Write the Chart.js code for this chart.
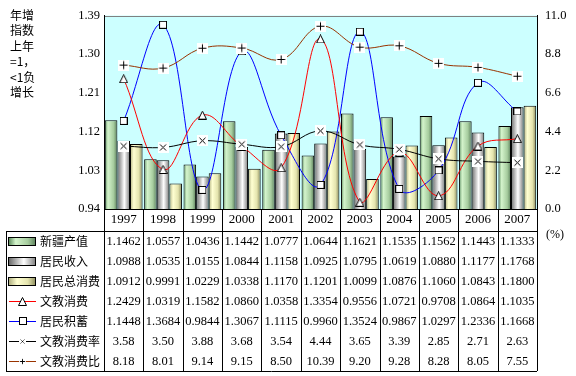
<!DOCTYPE html>
<html>
<head>
<meta charset="utf-8">
<script src="https://cdn.jsdelivr.net/npm/chart.js@4"></script>
<style>body{margin:0;background:#fff}</style>
</head>
<body>
<canvas id="c" width="576" height="376"></canvas>
<script>
// categories
const years = ['1997', '1998', '1999', '2000', '2001', '2002', '2003', '2004', '2005', '2006', '2007'];

// index series (left axis, previous year = 1)
const gdp         = [1.1462, 1.0557, 1.0436, 1.1442, 1.0777, 1.0644, 1.1621, 1.1535, 1.1562, 1.1443, 1.1333];
const income      = [1.0988, 1.0535, 1.0155, 1.0844, 1.1158, 1.0925, 1.0795, 1.0619, 1.0880, 1.1177, 1.1768];
const consumption = [1.0912, 0.9991, 1.0229, 1.0338, 1.1170, 1.1201, 1.0099, 1.0876, 1.1060, 1.0843, 1.1800];
const eduSpend    = [1.2429, 1.0319, 1.1582, 1.0860, 1.0358, 1.3354, 0.9556, 1.0721, 0.9708, 1.0864, 1.1035];
const savings     = [1.1448, 1.3684, 0.9844, 1.3067, 1.1115, 0.9960, 1.3524, 0.9867, 1.0297, 1.2336, 1.1668];

// percentages (right axis)
const eduRate  = [3.58, 3.50, 3.88, 3.68, 3.54, 4.44, 3.65, 3.39, 2.85, 2.71, 2.63];
const eduRatio = [8.18, 8.01, 9.14, 9.15, 8.50, 10.39, 9.20, 9.28, 8.28, 8.05, 7.55];

const leftTicks = [0.94, 1.03, 1.12, 1.21, 1.30, 1.39];
const rightTicks = [0, 2.2, 4.4, 6.6, 8.8, 11.0];
const sideNote = ['年增', '指数', '上年', '=1，', '<1负', '增长'];

const serif = '"Liberation Serif", "Times New Roman", serif';
const cjk = '"Noto Sans CJK SC", sans-serif';

const greenStops = [[0, '#5f8f5f'], [0.25, '#d4f4cc'], [0.7, '#a6cc9e'], [1, '#5a7e5a']];
const grayStops  = [[0, '#6a6a6a'], [0.55, '#ffffff'], [1, '#7a7a7a']];
const beigeStops = [[0, '#b0b080'], [0.3, '#ffffd2'], [0.7, '#e4e4ae'], [1, '#88885a']];

const catPct = 0.96;

function barFill(stops, idx) {
  return function (ctx) {
    const xs = ctx.chart.scales.x;
    if (!xs || ctx.dataIndex === undefined) return stops[1][1];
    const groupW = xs.width / years.length * catPct;
    const bw = groupW / 3;
    const left = xs.getPixelForValue(ctx.dataIndex) - groupW / 2 + idx * bw;
    if (!Number.isFinite(left) || !Number.isFinite(bw) || bw <= 0) return stops[1][1];
    const g = ctx.chart.ctx.createLinearGradient(left, 0, left + bw, 0);
    stops.forEach(s => g.addColorStop(s[0], s[1]));
    return g;
  };
}

function marker(size, draw) {
  const c = document.createElement('canvas');
  c.width = c.height = size;
  const g = c.getContext('2d');
  g.strokeStyle = '#000';
  g.lineWidth = 1;
  draw(g, size);
  return c;
}

const triMark = marker(9, g => {
  g.fillStyle = '#fff';
  g.beginPath();
  g.moveTo(4.5, 0.5); g.lineTo(8.5, 8.5); g.lineTo(0.5, 8.5); g.closePath();
  g.fill(); g.stroke();
});
const sqMark = marker(8, g => {
  g.fillStyle = '#fff';
  g.fillRect(0, 0, 8, 8);
  g.strokeRect(0.5, 0.5, 7, 7);
});
const xMark = marker(11, g => {
  g.fillStyle = '#fff';
  g.fillRect(0, 0, 11, 11);
  g.beginPath();
  g.moveTo(2.5, 2.5); g.lineTo(8.5, 8.5);
  g.moveTo(8.5, 2.5); g.lineTo(2.5, 8.5);
  g.stroke();
});
const plusMark = marker(11, g => {
  g.fillStyle = '#fff';
  g.fillRect(0, 0, 11, 11);
  g.beginPath();
  g.moveTo(5.5, 1.5); g.lineTo(5.5, 9.5);
  g.moveTo(1.5, 5.5); g.lineTo(9.5, 5.5);
  g.stroke();
});

const tableRows = [
  { name: '新疆产值', values: gdp, digits: 4, bar: greenStops },
  { name: '居民收入', values: income, digits: 4, bar: grayStops },
  { name: '居民总消费', values: consumption, digits: 4, bar: beigeStops },
  { name: '文教消费', values: eduSpend, digits: 4, line: '#ff0000', mark: triMark },
  { name: '居民积蓄', values: savings, digits: 4, line: '#0000ff', mark: sqMark },
  { name: '文教消费率', values: eduRate, digits: 2, line: '#000000', mark: xMark },
  { name: '文教消费比', values: eduRatio, digits: 2, line: '#993300', mark: plusMark }
];

const px = v => Math.round(v) + 0.5;

const frame = {
  id: 'frame',
  beforeDraw(chart) {
    const { ctx, chartArea: a } = chart;
    ctx.save();
    ctx.fillStyle = '#fff';
    ctx.fillRect(0, 0, chart.width, chart.height);
    ctx.fillStyle = '#ccffff';
    ctx.fillRect(a.left, a.top, a.right - a.left, a.bottom - a.top);
    ctx.strokeStyle = '#808080';
    ctx.beginPath();
    ctx.moveTo(a.left, px(a.top)); ctx.lineTo(a.right, px(a.top));
    ctx.stroke();
    ctx.restore();
  },
  afterDraw(chart) {
    const { ctx, chartArea: a } = chart;
    const xs = chart.scales.x;
    const catW = xs.width / years.length;
    const yearBottom = a.bottom + 22;
    const rowH = 20;
    const tableBottom = yearBottom + rowH * tableRows.length;
    const tLeft = 6;

    ctx.save();
    ctx.strokeStyle = '#000';
    ctx.lineWidth = 1;
    ctx.beginPath();
    for (let i = 0; i <= years.length; i++) {
      const x = px(a.left + i * catW);
      ctx.moveTo(x, a.bottom); ctx.lineTo(x, tableBottom);
    }
    ctx.moveTo(tLeft, px(yearBottom)); ctx.lineTo(a.right, px(yearBottom));
    ctx.moveTo(tLeft, px(tableBottom)); ctx.lineTo(a.right, px(tableBottom));
    ctx.moveTo(px(tLeft), yearBottom); ctx.lineTo(px(tLeft), tableBottom);
    ctx.stroke();

    tableRows.forEach((row, r) => {
      const cy = yearBottom + rowH * r + rowH / 2;
      // legend key
      if (row.bar) {
        const gh = ctx.createLinearGradient(9, 0, 36, 0);
        row.bar.forEach(s => gh.addColorStop(s[0], s[1]));
        ctx.fillStyle = gh;
        ctx.fillRect(9, cy - 4, 27, 8);
        ctx.strokeRect(8.5, Math.round(cy - 4) + 0.5, 27, 8);
      } else {
        ctx.strokeStyle = row.line;
        ctx.beginPath();
        ctx.moveTo(9, px(cy)); ctx.lineTo(36, px(cy));
        ctx.stroke();
        ctx.strokeStyle = '#000';
        const m = row.mark;
        const s = m === triMark || m === sqMark ? m.width : 7;
        ctx.drawImage(m, Math.round(22.5 - s / 2), Math.round(cy - s / 2), s, s);
      }
      ctx.fillStyle = '#000';
      ctx.font = '12px ' + cjk;
      ctx.textAlign = 'left';
      ctx.textBaseline = 'middle';
      ctx.fillText(row.name, 40, cy);
      ctx.font = '12.5px ' + serif;
      ctx.textAlign = 'center';
      row.values.forEach((v, i) => {
        ctx.fillText(v.toFixed(row.digits), a.left + (i + 0.5) * catW, cy + 1);
      });
    });

    // side note and unit
    ctx.textAlign = 'left';
    ctx.textBaseline = 'middle';
    ctx.font = '12px ' + cjk;
    sideNote.forEach((t, i) => ctx.fillText(t, 10, 15 + i * 15.5));
    ctx.font = '12px ' + serif;
    ctx.fillText('(%)', a.right + 9, yearBottom + 4);
    ctx.restore();
  }
};

const lineDs = (label, data, color, mark, axis) => ({
  type: 'line', label, data, yAxisID: axis, order: 1,
  borderColor: color, borderWidth: 1, tension: 0.4, fill: false,
  pointStyle: mark, pointRadius: 5, pointHoverRadius: 5
});

new Chart(document.getElementById('c'), {
  type: 'bar',
  data: {
    labels: years,
    datasets: [
      { label: '新疆产值', data: gdp, yAxisID: 'y', order: 2, backgroundColor: barFill(greenStops, 0), borderColor: '#000', borderWidth: 1, categoryPercentage: catPct, barPercentage: 1 },
      { label: '居民收入', data: income, yAxisID: 'y', order: 2, backgroundColor: barFill(grayStops, 1), borderColor: '#000', borderWidth: 1, categoryPercentage: catPct, barPercentage: 1 },
      { label: '居民总消费', data: consumption, yAxisID: 'y', order: 2, backgroundColor: barFill(beigeStops, 2), borderColor: '#000', borderWidth: 1, categoryPercentage: catPct, barPercentage: 1 },
      lineDs('文教消费率', eduRate, '#000000', xMark, 'y1'),
      lineDs('文教消费比', eduRatio, '#993300', plusMark, 'y1'),
      lineDs('文教消费', eduSpend, '#ff0000', triMark, 'y'),
      lineDs('居民积蓄', savings, '#0000ff', sqMark, 'y')
    ]
  },
  options: {
    responsive: false,
    devicePixelRatio: 1,
    animation: false,
    layout: { padding: { top: 15, left: 0, right: 0, bottom: 0 } },
    plugins: { legend: { display: false }, tooltip: { enabled: false } },
    scales: {
      x: {
        grid: { display: false, drawTicks: false },
        border: { display: true, color: '#000' },
        ticks: { color: '#000', font: { family: serif, size: 13 }, padding: 3, maxRotation: 0 },
        afterFit(s) { s.height = 167; }
      },
      y: {
        position: 'left', min: 0.94, max: 1.39,
        grid: { display: false, drawTicks: false },
        border: { display: true, color: '#000' },
        afterBuildTicks(s) { s.ticks = leftTicks.map(v => ({ value: v })); },
        ticks: { color: '#000', font: { family: serif, size: 12.5 }, padding: 4, callback: v => Number(v).toFixed(2) },
        afterFit(s) { s.width = 104; }
      },
      y1: {
        position: 'right', min: 0, max: 11,
        grid: { display: false, drawTicks: false },
        border: { display: true, color: '#000' },
        afterBuildTicks(s) { s.ticks = rightTicks.map(v => ({ value: v })); },
        ticks: { color: '#000', font: { family: serif, size: 12.5 }, padding: 8, callback: v => Number(v).toFixed(1) },
        afterFit(s) { s.width = 39; }
      }
    }
  },
  plugins: [frame]
});
</script>
</body>
</html>
